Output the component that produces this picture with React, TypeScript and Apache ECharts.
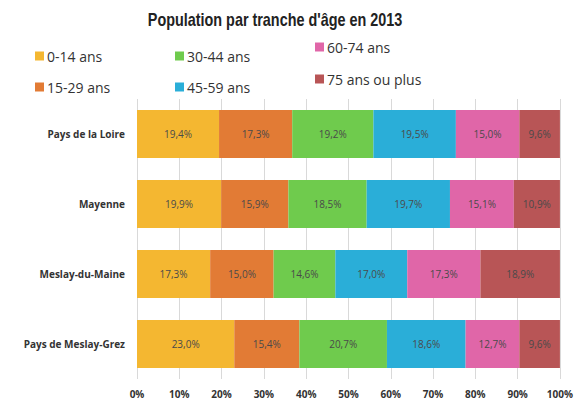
import React, { useEffect, useRef } from "react";
import * as echarts from "echarts";

const categories = ["Pays de la Loire", "Mayenne", "Meslay-du-Maine", "Pays de Meslay-Grez"];
const seriesNames = ["0-14 ans", "15-29 ans", "30-44 ans", "45-59 ans", "60-74 ans", "75 ans ou plus"];
const v0_14 = [19.4, 19.9, 17.3, 23.0];
const v15_29 = [17.3, 15.9, 15.0, 15.4];
const v30_44 = [19.2, 18.5, 14.6, 20.7];
const v45_59 = [19.5, 19.7, 17.0, 18.6];
const v60_74 = [15.0, 15.1, 17.3, 12.7];
const v75 = [9.6, 10.9, 18.9, 9.6];
const xTicks = [0, 10, 20, 30, 40, 50, 60, 70, 80, 90, 100];

const colors = ["#F4B731", "#E27B35", "#6FCB4D", "#2AAED8", "#E066A8", "#B85556"];
const values = [v0_14, v15_29, v30_44, v45_59, v60_74, v75];

const legendPos = [
  { left: 30, top: 44 },
  { left: 30, top: 75 },
  { left: 170, top: 44 },
  { left: 170, top: 75 },
  { left: 310, top: 35 },
  { left: 310, top: 67 },
];

export default function App() {
  const ref = useRef<HTMLDivElement>(null);
  useEffect(() => {
    if (!ref.current) return;
    const chart = echarts.init(ref.current, null, { renderer: "svg" });
    chart.setOption({
      animation: false,
      backgroundColor: "#ffffff",
      color: colors,
      graphic: [
        {
          type: "text",
          x: 275,
          y: 10,
          scaleX: 0.8,
          style: {
            text: "Population par tranche d'âge en 2013",
            fontFamily: "'Liberation Sans', Arial, sans-serif",
            fontSize: 18,
            fontWeight: "bold",
            fill: "#222",
            textAlign: "center",
            textVerticalAlign: "top",
          },
        },
      ],
      legend: seriesNames.map((n, i) => ({
        data: [n],
        left: legendPos[i].left,
        top: legendPos[i].top,
        icon: "rect",
        itemWidth: 9,
        itemHeight: 9,
        itemGap: 4,
        textStyle: { fontFamily: "'Open Sans', Arial, sans-serif", fontSize: 14, color: "#333", padding: [0, 0, 0, -2] },
      })),
      grid: { left: 137, right: 15, top: 99, bottom: 26 },
      xAxis: {
        type: "value",
        min: 0,
        max: 100,
        interval: 10,
        axisLine: { show: false },
        axisTick: { show: false },
        splitLine: { show: true, lineStyle: { color: "#d9d9d9", width: 1 } },
        axisLabel: {
          formatter: (v: number) => (xTicks.includes(v) ? v + "%" : ""),
          fontFamily: "'Open Sans', Arial, sans-serif",
          fontSize: 10,
          fontWeight: "bold",
          color: "#333",
          margin: 10,
        },
      },
      yAxis: {
        type: "category",
        data: categories,
        inverse: true,
        axisLine: { show: false },
        axisTick: { show: false },
        axisLabel: {
          fontFamily: "'Open Sans', Arial, sans-serif",
          fontSize: 10,
          fontWeight: "bold",
          color: "#333",
          margin: 12,
        },
      },
      series: seriesNames.map((n, i) => ({
        name: n,
        type: "bar",
        stack: "total",
        barWidth: 48,
        data: values[i],
        itemStyle: { color: colors[i] },
        label: {
          show: true,
          position: "inside",
          formatter: (p: any) => p.value.toFixed(1).replace(".", ",") + "%",
          fontFamily: "'Open Sans', Arial, sans-serif",
          fontSize: 10,
          color: "#4a4a4a",
        },
      })),
    });
    return () => chart.dispose();
  }, []);
  return (
    <div
      ref={ref}
      style={{ position: "absolute", left: 0, top: 0, width: 576, height: 405 }}
    />
  );
}
